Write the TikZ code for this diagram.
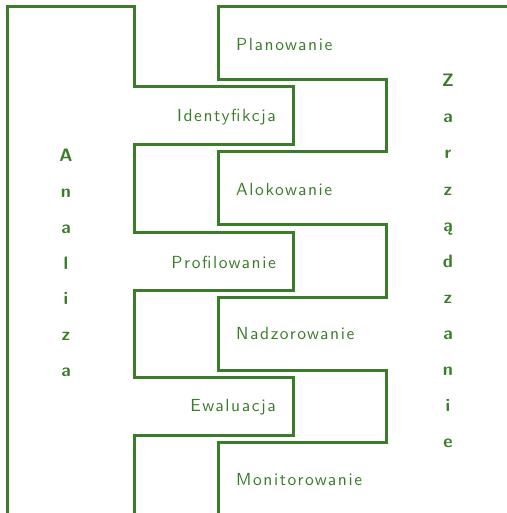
\documentclass[tikz,border=0pt]{standalone}
\usepackage{fontspec}
\usepackage{tikz}
\usetikzlibrary{positioning}
\definecolor{ciemnozielony}{RGB}{58,124,42}
\newfontfamily\etykfont{lmsans10-regular.otf}[LetterSpace=9]
\newcommand{\etykieta}{\fontsize{17.5}{20}\etykfont}

\begin{document}
\begin{tikzpicture}[x=1pt, y=-1pt,
		linia/.style = {ciemnozielony, line width=3pt, line join=miter},
		etap/.style = {text=ciemnozielony, font=\etykieta, inner sep=0pt},
		litera/.style = {text=ciemnozielony, font=\fontsize{18}{20}\sffamily\bfseries, inner sep=0pt, anchor=base}]
		\useasboundingbox (0,0) rectangle (506,513);
		
		% grzebien analizy
		\draw [linia] (7,516) -- (7,7) -- (134,7) -- (134,87) -- (293,87) -- (293,145) -- (134,145)
		-- (134,232) -- (293,232) -- (293,290) -- (134,290)
		-- (134,377) -- (293,377) -- (293,435) -- (134,435) -- (134,516);
		
		% grzebien zarzadzania
		\draw [linia] (510,7) -- (218,7) -- (218,80) -- (386,80) -- (386,152) -- (218,152)
		-- (218,224) -- (386,224) -- (386,297) -- (218,297)
		-- (218,370) -- (386,370) -- (386,442) -- (218,442) -- (218,516);
		
		\node at (236,50.5) (plan) [etap, anchor=base west] {Planowanie};
		\node at (276,121.5) (ident) [etap, anchor=base east] {Identyfikcja};
		\node at (236,195) (alok) [etap, anchor=base west] {Alokowanie};
		\node at (276,268) (prof) [etap, anchor=base east] {Profilowanie};
		\node at (236,339.8) (nadz) [etap, anchor=base west] {Nadzorowanie};
		\node at (276,411) (ewal) [etap, anchor=base east] {Ewaluacja};
		\node at (236,485.5) (monit) [etap, anchor=base west] {Monitorowanie};
		
		\foreach \l [count=\i from 0] in {A,n,a,l,i,z,a}
		\node at (66,161.7+35.8*\i) (a\i) [litera] {\l};
		
		\foreach \l [count=\i from 0] in {Z,a,r,z,ą,d,z,a,n,i,e}
		\node at (448,86.7+36.1*\i) (z\i) [litera] {\l};
	\end{tikzpicture}
\end{document}
